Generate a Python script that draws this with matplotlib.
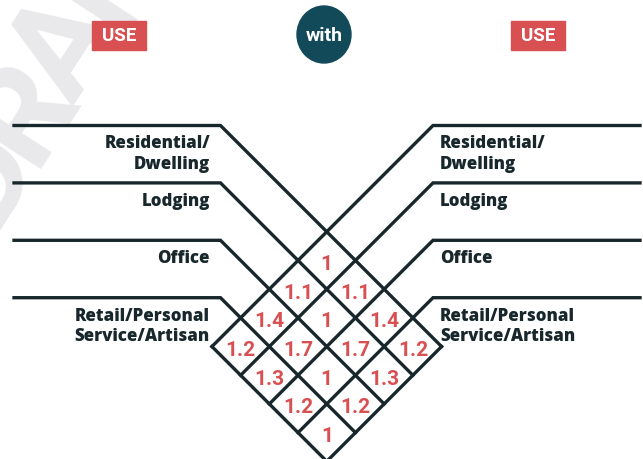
import numpy as np
import matplotlib.pyplot as plt
from matplotlib.patches import Rectangle, Ellipse

uses = ["Residential/\nDwelling", "Lodging", "Office", "Retail/Personal\nService/Artisan"]
# factor[i][j]: left use i with right use j
factors = [
    [1, 1.1, 1.4, 1.2],
    [1.1, 1, 1.7, 1.3],
    [1.4, 1.7, 1, 1.2],
    [1.2, 1.3, 1.2, 1],
]
header_left = "USE"
header_mid = "with"
header_right = "USE"
watermark = "DRAFT"

dark = "#17272c"
red = "#d95052"
teal = "#134a59"

fig = plt.figure(figsize=(6.43, 4.59), dpi=100)
ax = fig.add_axes([0, 0, 1, 1])
ax.set_xlim(0, 643)
ax.set_ylim(459, 0)
ax.axis("off")

# watermark, tightly tracked and cut off at the corner like the original
ang = 57
ux, uy = np.cos(np.radians(ang)), -np.sin(np.radians(ang))
for k, ch in enumerate(watermark):
    off = (k - 2) * 76
    ax.text(66 + off * ux, 48 + off * uy, ch, rotation=ang, fontsize=98,
            fontweight="bold", family="Roboto", color="#e9e9eb",
            ha="center", va="center", zorder=0)

# grid geometry (pixel units)
n = len(uses)
y0 = 125.5
d = 57.4
x_left = 220.5
x_right = 433
x_start = 14
x_end = 640
lw = 2.4

c = [y0 - x_left + k * d for k in range(n + 1)]    # y - x for down-right lines
s = [y0 + x_right + k * d for k in range(n + 1)]   # y + x for down-left lines

for i in range(n + 1):
    xe, ye = (s[n] - c[i]) / 2, (s[n] + c[i]) / 2
    if i < n:
        yi = y0 + i * d
        ax.plot([x_start, x_left, xe], [yi, yi, ye], color=dark, lw=lw,
                solid_joinstyle="miter", zorder=2)
    else:
        xs, ys = (s[0] - c[i]) / 2, (s[0] + c[i]) / 2
        ax.plot([xs, xe], [ys, ye], color=dark, lw=lw, zorder=2)
for j in range(n + 1):
    xe, ye = (s[j] - c[n]) / 2, (s[j] + c[n]) / 2
    if j < n:
        yj = y0 + j * d
        ax.plot([x_end, x_right, xe], [yj, yj, ye], color=dark, lw=lw,
                solid_joinstyle="miter", zorder=2)
    else:
        xs, ys = (s[j] - c[0]) / 2, (s[j] + c[0]) / 2
        ax.plot([xs, xe], [ys, ye], color=dark, lw=lw, zorder=2)

# cell values
for i in range(n):
    for j in range(n):
        cc = c[i] + d / 2
        ss = s[j] + d / 2
        ax.text((ss - cc) / 2, (ss + cc) / 2 + 4, f"{factors[i][j]:g}",
                color=red, fontsize=15, fontweight="bold", family="Roboto",
                ha="center", va="center", zorder=3)

# row labels
for k, lab in enumerate(uses):
    yk = y0 + k * d + 10
    ax.text(210, yk, lab, ha="right", va="top", fontsize=12.2, fontweight="heavy",
            family="Open Sans", color=dark, linespacing=1.24)
    ax.text(440, yk, lab, ha="left", va="top", fontsize=12.2, fontweight="heavy",
            family="Open Sans", color=dark, linespacing=1.24)

# headers
for xc, lab in [(119, header_left), (538, header_right)]:
    ax.add_patch(Rectangle((xc - 27, 21), 54, 29, color=red, zorder=3))
    ax.text(xc, 36, lab, color="white", fontsize=13.5, fontweight="bold",
            family="Roboto", ha="center", va="center", zorder=4)
ax.add_patch(Ellipse((324, 34.5), 54, 57, color=teal, zorder=3))
ax.text(324, 36, header_mid, color="white", fontsize=14, fontweight="bold",
        family="Roboto", ha="center", va="center", zorder=4)

fig.savefig("out.png", dpi=100)
